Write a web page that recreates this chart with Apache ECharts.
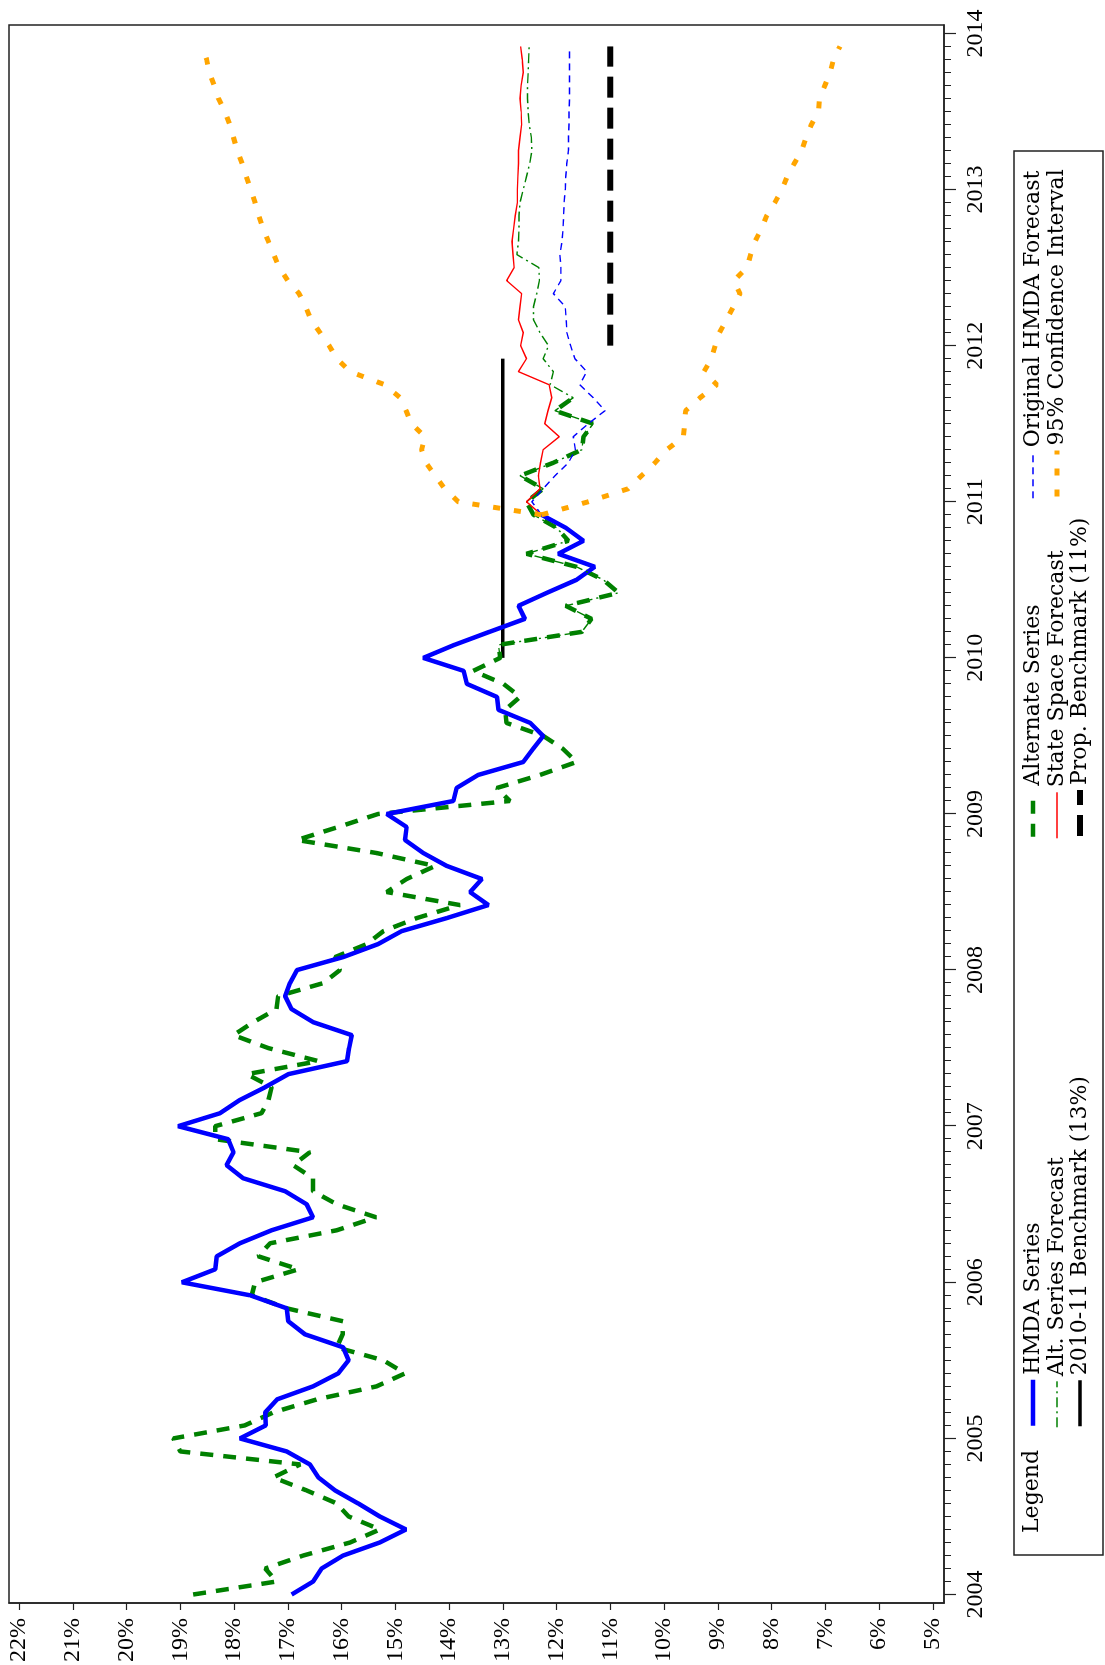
<!DOCTYPE html>
<html>
<head>
<meta charset="utf-8">
<script src="https://cdn.jsdelivr.net/npm/echarts@6/dist/echarts.min.js"></script>
<style>
  html, body { margin: 0; padding: 0; background: #fff; overflow: hidden; width: 1105px; height: 1665px; }
  /* the chart is laid out landscape and turned a quarter turn counter-clockwise */
  #chart { position: absolute; left: 0; top: 0; width: 1665px; height: 1105px;
           transform-origin: 0 0; transform: translate(0, 1665px) rotate(-90deg); }
</style>
</head>
<body>
<div id="chart"></div>
<script>
// ---- data: monthly rates (%) ----
const START_YEAR = 2004;

// HMDA series, Jan 2004 - Dec 2010
const hmdaSeries = [
  16.93, 16.53, 16.37, 15.97, 15.29, 14.80, 15.29, 15.69, 16.12, 16.43, 16.59, 17.02,
  17.89, 17.41, 17.42, 17.20, 16.53, 16.06, 15.87, 15.97, 16.68, 16.99, 17.02, 17.70,
  18.97, 18.35, 18.32, 17.89, 17.30, 16.53, 16.65, 17.05, 17.83, 18.14, 18.01, 18.11,
  19.04, 18.26, 17.90, 17.42, 16.99, 15.90, 15.86, 15.81, 16.53, 16.93, 17.05, 16.96,
  16.83, 15.97, 15.32, 14.88, 14.04, 13.27, 13.61, 13.39, 14.04, 14.48, 14.82, 14.79,
  15.16, 13.92, 13.86, 13.46, 12.62, 12.44, 12.25, 12.49, 13.08, 13.11, 13.67, 13.73,
  14.48, 13.90, 13.25, 12.59, 12.71, 12.18, 11.63, 11.29, 11.97, 11.50, 11.83, 12.28
];
const hmdaStart = 0;

// Alternate series, Jan 2004 - Sep 2011
const alternateSeries = [
  18.76, 17.21, 17.42, 16.71, 15.84, 15.29, 15.87, 16.09, 16.65, 17.27, 16.77, 19.00,
  19.13, 17.80, 17.27, 16.46, 15.35, 14.82, 15.22, 16.09, 15.98, 15.97, 17.02, 17.67,
  17.61, 16.80, 17.55, 17.33, 16.09, 15.36, 16.09, 16.53, 16.53, 16.90, 16.59, 18.35,
  18.35, 17.49, 17.36, 17.30, 17.76, 16.43, 17.36, 18.01, 17.64, 17.21, 17.18, 16.34,
  16.03, 16.12, 15.53, 15.22, 14.60, 13.80, 15.16, 14.79, 14.26, 15.35, 16.83, 16.06,
  15.32, 12.87, 13.11, 12.31, 11.63, 11.88, 12.25, 12.93, 12.96, 12.68, 12.99, 13.55,
  13.05, 13.08, 11.53, 11.35, 11.83, 10.85, 11.13, 11.63, 12.56, 11.78, 12.00, 12.43,
  12.56, 12.25, 12.68, 12.06, 11.53, 11.50, 11.32, 12.03, 11.69
];
const alternateStart = 0;

// Alt. series forecast, Jan 2010 - Dec 2013
const altSeriesForecast = [
  13.05, 13.08, 11.53, 11.35, 11.83, 10.85, 11.13, 11.63, 12.56, 11.78, 12.00, 12.43,
  12.56, 12.25, 12.68, 12.06, 11.53, 11.50, 11.32, 12.03, 11.69, 12.12, 12.06, 12.25,
  12.15, 12.31, 12.43, 12.43, 12.37, 12.32, 12.33, 12.74, 12.71, 12.70, 12.70, 12.68,
  12.62, 12.56, 12.50, 12.46, 12.47, 12.51, 12.53, 12.54, 12.54, 12.53, 12.52, 12.51
];
const altForecastStart = 72;

// State space forecast, Dec 2010 - Dec 2013
const stateSpaceForecast = [
  12.28,
  12.56, 12.31, 12.34, 12.30, 12.25, 11.95, 12.22, 12.16, 12.09, 12.14, 12.71, 12.56,
  12.67, 12.62, 12.71, 12.68, 12.65, 12.93, 12.79, 12.81, 12.83, 12.80, 12.77, 12.73,
  12.73, 12.72, 12.71, 12.71, 12.68, 12.65, 12.66, 12.68, 12.66, 12.62, 12.64, 12.67
];
const stateSpaceStart = 83;

// Original HMDA forecast, Dec 2010 - Dec 2013
const originalHmdaForecast = [
  12.28,
  12.46, 12.25, 12.03, 11.78, 11.65, 11.69, 11.41, 11.10, 11.32, 11.57, 11.44, 11.66,
  11.74, 11.81, 11.82, 11.84, 12.06, 11.92, 11.92, 11.94, 11.90, 11.88, 11.87, 11.86,
  11.84, 11.83, 11.81, 11.78, 11.78, 11.77, 11.77, 11.76, 11.76, 11.76, 11.76, 11.76
];
const originalForecastStart = 83;

// 95% confidence interval bounds, Dec 2010 - Dec 2013
const ciUpper = [
  12.28,
  13.83, 14.08, 14.26, 14.43, 14.51, 14.45, 14.70, 14.80, 14.91, 15.20, 15.84, 16.09,
  16.23, 16.40, 16.57, 16.67, 16.79, 17.00, 17.16, 17.26, 17.36, 17.46, 17.54, 17.61,
  17.69, 17.77, 17.85, 17.94, 18.01, 18.08, 18.17, 18.29, 18.37, 18.46, 18.51, 18.59
];
const ciLower = [
  12.28,
  11.41, 10.67, 10.42, 10.17, 9.95, 9.64, 9.62, 9.60, 9.33, 9.02, 9.26, 9.12,
  9.05, 8.97, 8.84, 8.71, 8.59, 8.70, 8.46, 8.39, 8.31, 8.19, 8.09, 7.94,
  7.81, 7.71, 7.58, 7.44, 7.36, 7.26, 7.13, 7.11, 7.01, 6.91, 6.85, 6.73
];
const ciStart = 83;

// Benchmarks: level and first / last month
const benchmark2010 = { value: 13, months: [72, 95] };
const benchmarkProp = { value: 11, months: [96, 119] };

// axis ticks
const yearTicks = [2004, 2005, 2006, 2007, 2008, 2009, 2010, 2011, 2012, 2013, 2014];
const pctTicks = [5, 6, 7, 8, 9, 10, 11, 12, 13, 14, 15, 16, 17, 18, 19, 20, 21, 22];

// ---- helpers ----
const toYear = m => START_YEAR + m / 12;
const monthly = (vals, start) => vals.map((v, i) => [toYear(start + i), v]);
const flatLine = b => b.months.map(m => [toYear(m), b.value]);

const monthTicks = [];
for (let m = 0; m <= 120; m++) monthTicks.push(toYear(m));

const AXIS_FONT = 'Liberation Serif';
const LEGEND_FONT = 'DejaVu Serif';
const BLUE = '#0000ff', GREEN = '#008000', RED = '#ff0000', ORANGE = '#ffa500', BLACK = '#000000';

// line styles, shared by the series and their legend keys
const styles = {
  'HMDA Series':             { color: BLUE,   width: 4.5, type: 'solid' },
  'Alternate Series':        { color: GREEN,  width: 4.5, type: [13, 10], cap: 'butt' },
  'Original HMDA Forecast':  { color: BLUE,   width: 1.4, type: [7, 5] },
  'Alt. Series Forecast':    { color: GREEN,  width: 1.4, type: [10, 4, 2, 4] },
  'State Space Forecast':    { color: RED,    width: 1.4, type: 'solid' },
  '95% Confidence Interval': { color: ORANGE, width: 5,   type: [7, 14], cap: 'butt' },
  '2010-11 Benchmark (13%)': { color: BLACK,  width: 3.5, type: 'solid', cap: 'butt' },
  'Prop. Benchmark (11%)':   { color: BLACK,  width: 6,   type: [21, 10], cap: 'butt' }
};

const line = (name, data, z) => ({
  type: 'line', name: name, data: data, z: z,
  symbol: 'none', showSymbol: false, animation: false, silent: true, smooth: false,
  xAxisIndex: 0, yAxisIndex: 0,
  lineStyle: Object.assign({}, styles[name]), itemStyle: { color: styles[name].color }
});

const series = [
  line('2010-11 Benchmark (13%)', flatLine(benchmark2010), 2),
  line('Alternate Series', monthly(alternateSeries, alternateStart), 3),
  line('HMDA Series', monthly(hmdaSeries, hmdaStart), 4),
  line('Alt. Series Forecast', monthly(altSeriesForecast, altForecastStart), 5),
  line('State Space Forecast', monthly(stateSpaceForecast, stateSpaceStart), 5),
  line('Original HMDA Forecast', monthly(originalHmdaForecast, originalForecastStart), 5),
  line('95% Confidence Interval', monthly(ciUpper, ciStart), 6),
  line('95% Confidence Interval', monthly(ciLower, ciStart), 6),
  line('Prop. Benchmark (11%)', flatLine(benchmarkProp), 6)
];

// legend keys placed on a three-row grid inside the box
const legendSlots = [
  ['HMDA Series', 237, 1022], ['Alternate Series', 826, 1022], ['Original HMDA Forecast', 1166, 1022],
  ['Alt. Series Forecast', 237, 1046], ['State Space Forecast', 826, 1046], ['95% Confidence Interval', 1166, 1046],
  ['2010-11 Benchmark (13%)', 237, 1069], ['Prop. Benchmark (11%)', 826, 1069]
];

const legendText = { fontFamily: LEGEND_FONT, fontSize: 22, color: '#000' };
const axisText = { fontFamily: AXIS_FONT, fontSize: 24, color: '#000' };

const option = {
  backgroundColor: '#fff',
  animation: false,
  textStyle: axisText,
  title: {
    text: 'Legend', left: 132, top: 1021, padding: 0,
    textStyle: Object.assign({ fontWeight: 'normal' }, legendText)
  },
  grid: { left: 60, right: 25, top: 9, bottom: 161, show: true, borderColor: '#222', borderWidth: 1.5, containLabel: false },
  xAxis: [
    {
      type: 'value', min: 2003.9456, max: 2014.054, position: 'bottom',
      axisLine: { show: true, onZero: false, lineStyle: { color: '#222', width: 1.5 } },
      axisTick: { show: true, customValues: yearTicks, length: 12, lineStyle: { color: '#222', width: 1.2 } },
      axisLabel: Object.assign({ show: true, customValues: yearTicks, formatter: v => String(Math.round(v)), margin: 20 }, axisText),
      splitLine: { show: false }
    },
    {
      type: 'value', min: 2003.9456, max: 2014.054, position: 'bottom', offset: 0,
      axisLine: { show: false, onZero: false },
      axisTick: { show: true, customValues: monthTicks, length: 7, lineStyle: { color: '#222', width: 1 } },
      axisLabel: { show: false },
      splitLine: { show: false }
    }
  ],
  yAxis: {
    type: 'value', min: 4.794, max: 22.186, position: 'left',
    axisLine: { show: true, onZero: false, lineStyle: { color: '#222', width: 1.5 } },
    axisTick: { show: true, customValues: pctTicks, length: 7, lineStyle: { color: '#222', width: 1.2 } },
    axisLabel: Object.assign({ show: true, customValues: pctTicks, formatter: v => v + '%', margin: 15 }, axisText),
    splitLine: { show: false }
  },
  legend: legendSlots.map(([name, left, top]) => ({
    data: [name], left: left, top: top, padding: 0, orient: 'horizontal',
    itemWidth: 46, itemHeight: 16, itemGap: 0, selectedMode: false,
    itemStyle: { opacity: 0, borderWidth: 0 },
    lineStyle: Object.assign({}, styles[name]),
    textStyle: legendText
  })),
  graphic: [{
    type: 'rect', silent: true, z: 0,
    shape: { x: 110, y: 1014, width: 1404, height: 89 },
    style: { fill: 'none', stroke: '#222', lineWidth: 1.5 }
  }],
  series: series
};

const chart = echarts.init(document.getElementById('chart'), null, { renderer: 'canvas', width: 1665, height: 1105 });
chart.setOption(option);
</script>
</body>
</html>
